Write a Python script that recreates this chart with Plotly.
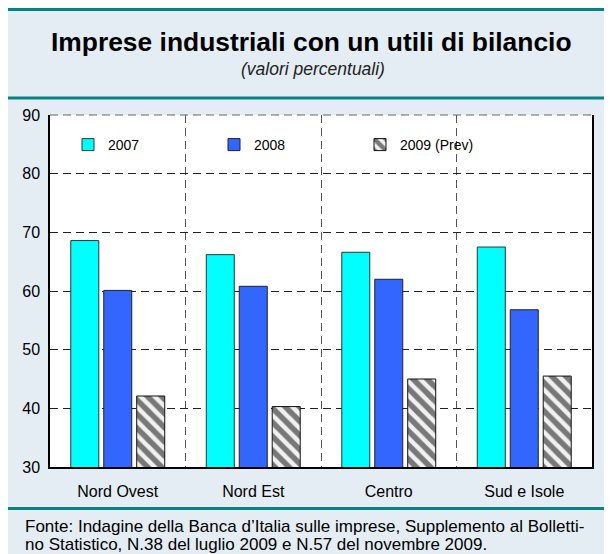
import plotly.graph_objects as go

categories = ["Nord Ovest", "Nord Est", "Centro", "Sud e Isole"]
series_names = ["2007", "2008", "2009 (Prev)"]
values_2007 = [68.6, 66.2, 66.6, 67.5]
values_2008 = [60.1, 60.8, 62.0, 56.8]
values_2009 = [42.1, 40.3, 45.0, 45.5]
y_ticks = [30, 40, 50, 60, 70, 80, 90]

title_text = "Imprese industriali con un utili di bilancio"
subtitle_text = "(valori percentuali)"
source_line1 = "Fonte: Indagine della Banca d\u2019Italia sulle imprese, Supplemento al Bolletti-"
source_line2 = "no Statistico, N.38 del luglio 2009 e N.57 del novembre 2009."

FONT = "Liberation Sans, Arial, sans-serif"
W, H = 612, 554
ML, MR, MT, MB = 42, 28, 107, 95
PW, PH = W - ML - MR, H - MT - MB

# page coordinates (the page has an 8px body margin) -> paper coordinates
PLOT_LEFT_PAGE, PLOT_BOTTOM_PAGE = ML + 8, H - MB + 8


def px(x):
    return (x - PLOT_LEFT_PAGE) / PW


def py(y):
    return (PLOT_BOTTOM_PAGE - y) / PH


fig = go.Figure()
fig.add_bar(x=categories, y=values_2007, name=series_names[0],
            marker=dict(color="#00FFFF", line=dict(color="#333333", width=1)))
fig.add_bar(x=categories, y=values_2008, name=series_names[1],
            marker=dict(color="#3366FF", line=dict(color="#222222", width=1)))
fig.add_bar(x=categories, y=values_2009, name=series_names[2],
            marker=dict(color="#F0F0F0", line=dict(color="#111111", width=1),
                        pattern=dict(shape="\\", fgcolor="#000000", bgcolor="#F0F0F0",
                                     size=10, solidity=0.55)))

shapes = [
    dict(type="line", xref="paper", yref="paper", x0=0, x1=1, y0=1, y1=1,
         line=dict(color="#666666", width=1, dash="8px,5px")),
]
for yy in (9.5, 98, 508.5):
    shapes.append(dict(type="line", xref="paper", yref="paper", x0=px(0), x1=px(640),
                       y0=py(yy), y1=py(yy), line=dict(color="#0A8282", width=3)))

annotations = [
    dict(text="<b>" + title_text + "</b>", xref="paper", yref="paper", x=px(311), y=py(42),
         xanchor="center", yanchor="middle", showarrow=False,
         font=dict(family=FONT, size=26.4, color="black")),
    dict(text="<i>" + subtitle_text + "</i>", xref="paper", yref="paper", x=px(313), y=py(69),
         xanchor="center", yanchor="middle", showarrow=False,
         font=dict(family=FONT, size=17.5, color="#222222")),
    dict(text=source_line1, xref="paper", yref="paper", x=px(23), y=py(526.5),
         xanchor="left", yanchor="middle", align="left", showarrow=False,
         font=dict(family=FONT, size=17, color="black")),
    dict(text=source_line2, xref="paper", yref="paper", x=px(23), y=py(544),
         xanchor="left", yanchor="middle", align="left", showarrow=False,
         font=dict(family=FONT, size=17, color="black")),
]

fig.update_layout(
    width=W, height=H,
    margin=dict(l=ML, r=MR, t=MT, b=MB, pad=0),
    paper_bgcolor="#E5EDF4", plot_bgcolor="white",
    barmode="group", bargap=0.27, bargroupgap=0.15,
    font=dict(family=FONT, color="black"),
    showlegend=True,
    legend=dict(orientation="h", x=px(68), y=py(145), xanchor="left", yanchor="middle",
                bgcolor="rgba(0,0,0,0)", font=dict(family=FONT, size=14, color="black"),
                entrywidth=101, entrywidthmode="pixels", itemwidth=30, traceorder="normal"),
    shapes=shapes, annotations=annotations,
)
fig.update_xaxes(showline=True, linecolor="black", linewidth=1.5, ticks="",
                 tickson="boundaries", showgrid=True, gridcolor="#555555", griddash="8px,5px",
                 gridwidth=1, tickfont=dict(family=FONT, size=16, color="black"),
                 ticklabelstandoff=9, fixedrange=True)
fig.update_yaxes(range=[30, 90], tickvals=y_ticks, showline=True, mirror=True,
                 linecolor="black", linewidth=1.5, ticks="", showgrid=True,
                 gridcolor="#222222", griddash="8px,5px", gridwidth=1, zeroline=False,
                 tickfont=dict(family=FONT, size=16, color="black"),
                 ticklabelstandoff=5, fixedrange=True)

fig.write_html("out.html")
